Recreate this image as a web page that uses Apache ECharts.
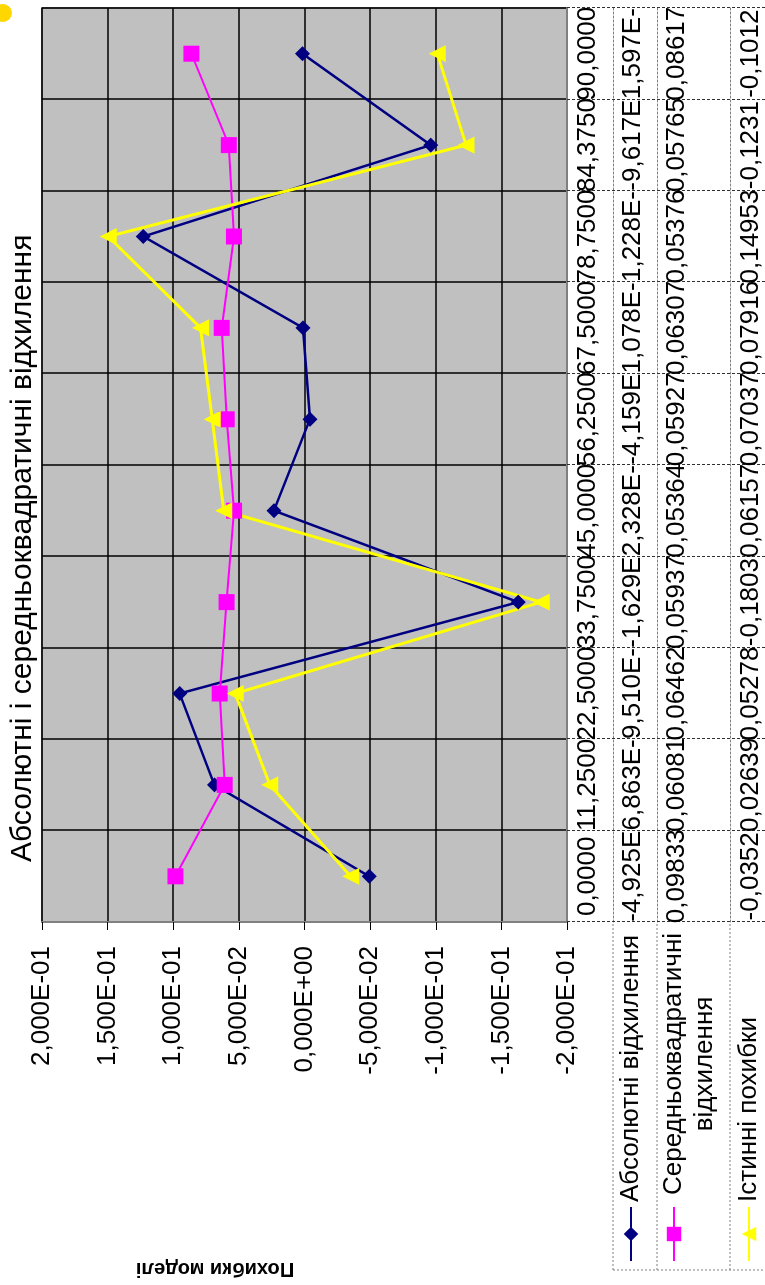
<!DOCTYPE html>
<html><head><meta charset="utf-8">
<script src="https://cdn.jsdelivr.net/npm/echarts@6/dist/echarts.min.js"></script>
<style>
html,body{margin:0;padding:0;background:#fff;overflow:hidden;width:765px;height:1285px;}
#wrap{position:absolute;left:0;top:0;width:1285px;height:765px;transform-origin:0 0;transform:translateY(1285px) rotate(-90deg);}
</style></head><body><div id="wrap"></div>
<script>
const categories = [0, 11.25, 22.5, 33.75, 45, 56.25, 67.5, 78.75, 84.375, 90];
const absDev  = [-4.925e-2, 6.863e-2, 9.510e-2, -1.629e-1, 2.328e-2, -4.159e-3, 1.078e-3, 1.228e-1, -9.617e-2, 1.597e-3];
const rmsDev  = [0.09833, 0.06081, 0.06462, 0.05937, 0.05364, 0.05927, 0.06307, 0.05376, 0.05765, 0.08617];
const trueErr = [-0.03521, 0.02639, 0.05278, -0.1803, 0.06157, 0.07037, 0.07916, 0.14953, -0.1231, -0.1012];
const names = ['Абсолютні відхилення', 'Середньоквадратичні відхилення', 'Істинні похибки'];
const titleText = 'Абсолютні і середньоквадратичні відхилення';
const yAxisTitle = 'Похибки моделі';
const valueMin = -0.2, valueMax = 0.2, valueStep = 0.05;

const FONT = '"Liberation Sans", Arial, sans-serif';
function fmtE(v){
  if (Math.abs(v) < 1e-12) return '0,000E+00';
  const s = v.toExponential(3).split('e');
  const e = parseInt(s[1], 10);
  return s[0].replace('.', ',') + 'E' + (e < 0 ? '-' : '+') + String(Math.abs(e)).padStart(2, '0');
}
const catLabels = categories.map(c => c.toFixed(4).replace('.', ','));
const cell = s => s.slice(0, 7);
const row1 = absDev.map(v => cell(fmtE(v)));
const row2 = rmsDev.map(v => cell(String(v).replace('.', ',')));
const row3 = trueErr.map(v => cell(String(v).replace('.', ',')));

const chart = echarts.init(document.getElementById('wrap'), null, {renderer: 'canvas'});
const lblBase = {fontSize: 26, color: '#000', fontFamily: FONT, interval: 0};
function tableAxis(offset, labels, margin){
  return {
    type: 'category', data: catLabels, position: 'bottom', offset: offset,
    boundaryGap: true,
    axisLine: {show: true, onZero: false, lineStyle: {color: '#808080', type: [2, 2], width: 1}},
    axisTick: {show: false}, splitLine: {show: false},
    axisLabel: Object.assign({}, lblBase, {margin: margin, formatter: (v, i) => labels[i]})
  };
}
const legendCommon = {
  orient: 'horizontal', left: 23, padding: 0, itemWidth: 54, itemHeight: 18, itemGap: 0,
  selectedMode: false,
  textStyle: {fontSize: 26, color: '#000', fontFamily: FONT}
};
const option = {
  animation: false,
  backgroundColor: '#fff',
  title: {text: titleText, left: 423, top: 8, padding: 0,
    textStyle: {fontSize: 30, fontWeight: 'normal', color: '#000', fontFamily: FONT}},
  grid: {left: 363, right: 8, top: 42, bottom: 198, show: true,
    backgroundColor: '#c0c0c0', borderColor: '#808080', borderWidth: 2},
  xAxis: [
    {
      type: 'category', data: catLabels, position: 'bottom', boundaryGap: true,
      axisLine: {show: true, onZero: false, lineStyle: {color: '#808080', width: 2}},
      axisTick: {show: true, interval: 0, length: 208, lineStyle: {color: '#303030', type: [3, 2], width: 1}},
      splitLine: {show: true, interval: 0, lineStyle: {color: '#000', width: 1.5}},
      axisLabel: Object.assign({}, lblBase, {margin: 8})
    },
    tableAxis(46, row1, 7),
    tableAxis(90, row2, 7),
    tableAxis(163, row3, 8)
  ],
  yAxis: {
    type: 'value', min: valueMin, max: valueMax, interval: valueStep,
    axisLine: {show: true, lineStyle: {color: '#808080', width: 2}},
    axisTick: {show: true, length: 8, lineStyle: {color: '#000'}},
    splitLine: {show: true, lineStyle: {color: '#000', width: 1.5}},
    axisLabel: {fontSize: 26, color: '#000', fontFamily: FONT, margin: 24, formatter: fmtE}
  },
  legend: [
    Object.assign({}, legendCommon, {data: [names[0]], top: 618}),
    Object.assign({}, legendCommon, {data: [names[1]], top: 630,
      formatter: () => '{s| }\n{a|Середньоквадратичні}\n{a|відхилення}',
      textStyle: {fontSize: 26, color: '#000', fontFamily: FONT,
        rich: {s: {fontSize: 26, lineHeight: 31}, a: {fontSize: 26, lineHeight: 31, width: 276, align: 'center', fontFamily: FONT}}}}),
    Object.assign({}, legendCommon, {data: [names[2]], top: 736})
  ],
  graphic: [
    {type: 'line', shape: {x1: 15, y1: 613, x2: 363, y2: 613}, style: {stroke: '#808080', lineDash: [2, 2], lineWidth: 1}},
    {type: 'line', shape: {x1: 15, y1: 657, x2: 363, y2: 657}, style: {stroke: '#808080', lineDash: [2, 2], lineWidth: 1}},
    {type: 'line', shape: {x1: 15, y1: 730, x2: 363, y2: 730}, style: {stroke: '#808080', lineDash: [2, 2], lineWidth: 1}},
    {type: 'line', shape: {x1: 15, y1: 613, x2: 15, y2: 765}, style: {stroke: '#808080', lineDash: [2, 2], lineWidth: 1}},
    {type: 'text', x: 16, y: 215, rotation: Math.PI / 2,
      style: {text: yAxisTitle, font: 'bold 20px ' + FONT, fill: '#000', align: 'center', verticalAlign: 'middle'}},
    {type: 'circle', shape: {cx: 1272, cy: 3, r: 9}, style: {fill: '#ffd700'}}
  ],
  series: [
    {name: names[0], type: 'line', data: absDev, symbol: 'diamond', symbolSize: 15,
      itemStyle: {color: '#000080'}, lineStyle: {color: '#000080', width: 2.5}},
    {name: names[1], type: 'line', data: rmsDev, symbol: 'rect', symbolSize: 16,
      itemStyle: {color: '#ff00ff'}, lineStyle: {color: '#ff00ff', width: 2}},
    {name: names[2], type: 'line', data: trueErr, symbol: 'triangle', symbolSize: 17,
      itemStyle: {color: '#ffff00'}, lineStyle: {color: '#ffff00', width: 3}}
  ]
};
chart.setOption(option);
</script></body></html>
